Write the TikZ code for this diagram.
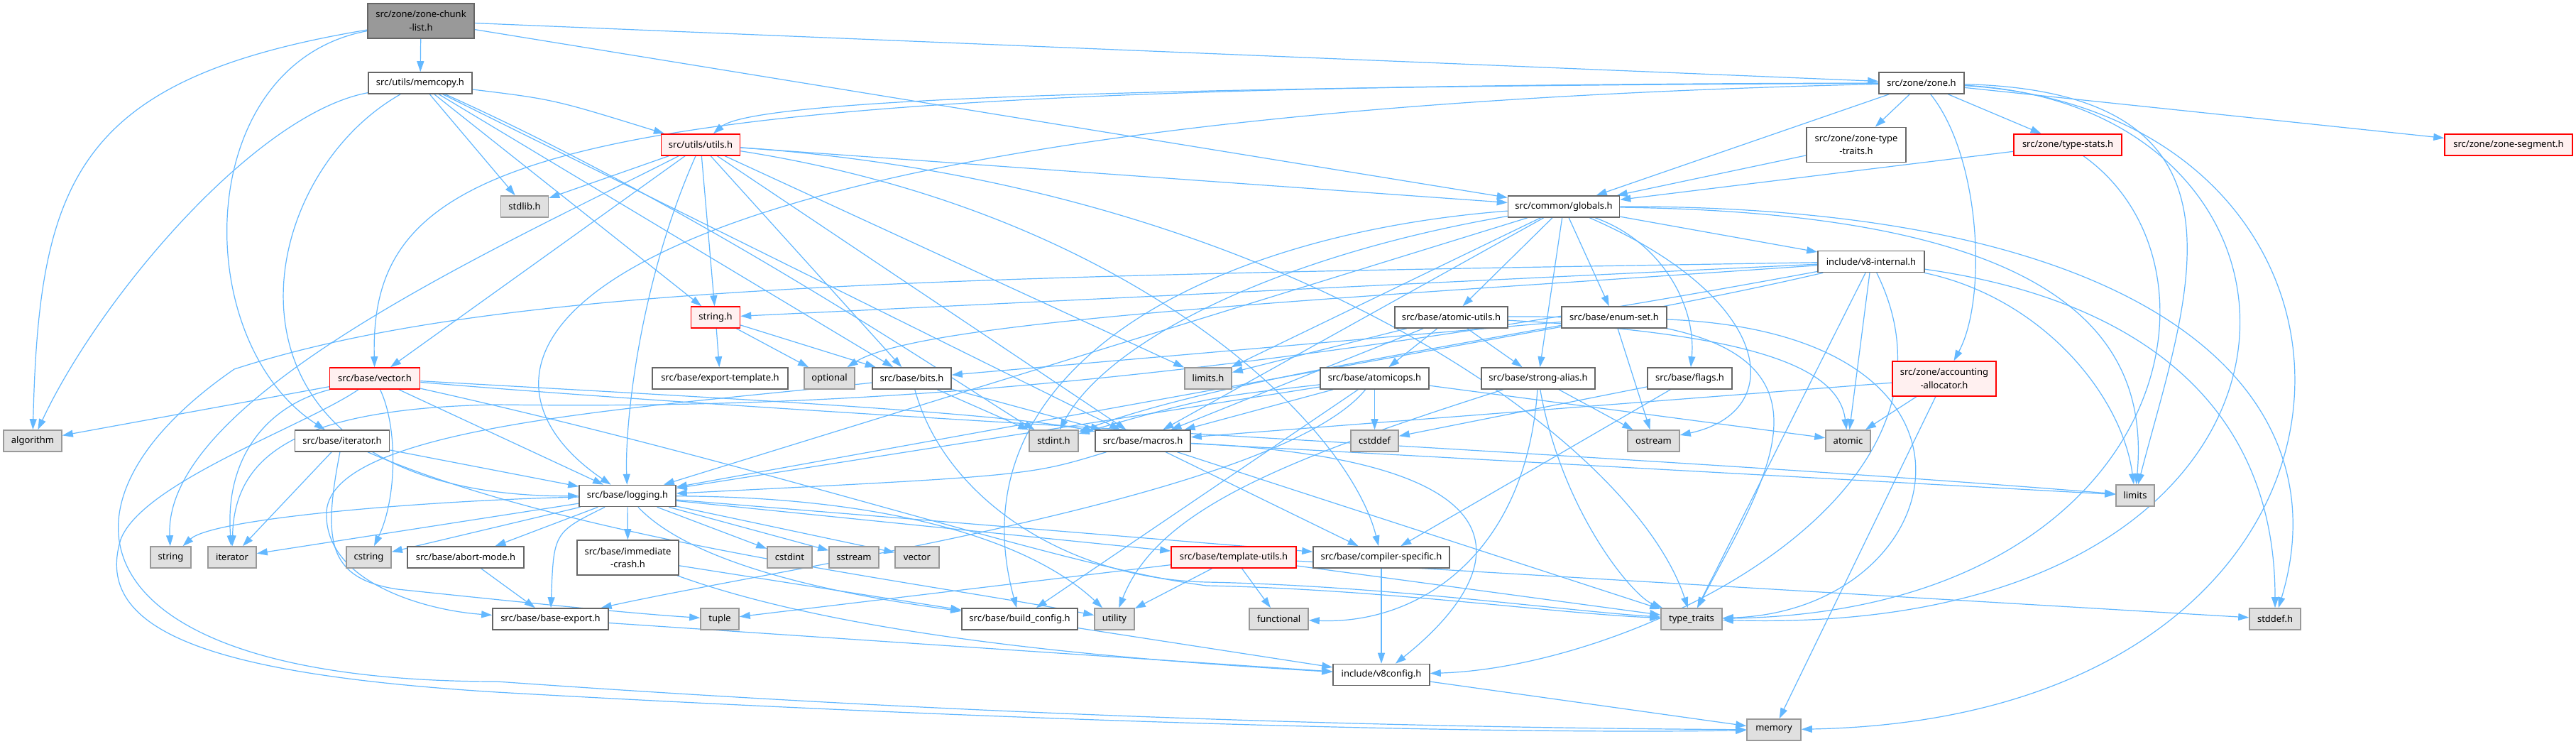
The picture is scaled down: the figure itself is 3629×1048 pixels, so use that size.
\documentclass[tikz,border=0pt]{standalone}
\usepackage{fontspec}
\setmainfont{Noto Sans}
\usepackage{tikz}
\usetikzlibrary{arrows.meta,backgrounds}
\definecolor{depblue}{RGB}{99,184,255}
\definecolor{hdrgray}{RGB}{102,102,102}
\definecolor{sysgray}{RGB}{153,153,153}
\definecolor{sysfill}{RGB}{224,224,224}
\definecolor{truncred}{RGB}{255,0,0}
\definecolor{truncfill}{RGB}{255,240,240}
\definecolor{mainfill}{RGB}{153,153,153}
\newcommand{\hdrfont}{\fontsize{13}{18.7}\selectfont}
\tikzset{
  hdr/.style={draw=hdrgray, fill=white, line width=1.6pt, minimum height=30pt,
              inner xsep=8pt, inner ysep=2pt, font=\hdrfont},
  syshdr/.style={hdr, draw=sysgray, fill=sysfill},
  trunchdr/.style={hdr, draw=truncred, fill=truncfill},
  mainhdr/.style={hdr, fill=mainfill},
  twoline/.style={minimum height=49pt, align=center},
  dep/.style={-{Triangle[length=15pt,width=10pt]}, draw=depblue, line width=1.2pt}
}

\begin{document}
\begin{tikzpicture}[x=1pt, y=-1pt]
  \useasboundingbox (0,0) rectangle (3629,1048);
  % top rows
  \node[mainhdr, twoline, minimum width=150pt] (chunk) at (593,29.5) {src/zone/zone-chunk\\-list.h};
  \node[hdr, minimum width=146pt] (memcopy) at (592,117) {src/utils/memcopy.h};
  \node[hdr, minimum width=120pt] (zone) at (2707,117) {src/zone/zone.h};
  \node[trunchdr, minimum width=111pt] (utils) at (987,204) {src/utils/utils.h};
  \node[hdr, twoline, minimum width=140pt] (ztt) at (2615,204) {src/zone/zone-type\\-traits.h};
  \node[trunchdr, minimum width=152pt] (tstats) at (2913,204) {src/zone/type-stats.h};
  \node[trunchdr, minimum width=180pt] (zseg) at (3534,204) {src/zone/zone-segment.h};
  \node[syshdr, minimum width=67pt] (stdlib) at (739,291) {stdlib.h};
  \node[hdr, minimum width=157pt] (globals) at (2203,291) {src/common/globals.h};
  \node[hdr, minimum width=150pt] (v8int) at (2636,368.5) {include/v8-internal.h};
  % middle rows
  \node[trunchdr, minimum width=69pt] (stringh) at (1008,447) {string.h};
  \node[hdr, minimum width=159pt] (atomicutils) at (2044.5,447) {src/base/atomic-utils.h};
  \node[hdr, minimum width=148pt] (enumset) at (2274,447) {src/base/enum-set.h};
  \node[trunchdr, minimum width=127pt] (vector) at (528,533) {src/base/vector.h};
  \node[hdr, minimum width=191pt] (exptempl) at (1014.5,533) {src/base/export-template.h};
  \node[syshdr, minimum width=71pt] (optional) at (1168.5,533) {optional};
  \node[hdr, minimum width=111pt] (bits) at (1284.5,533) {src/base/bits.h};
  \node[syshdr, minimum width=66pt] (limitsh) at (1702,533) {limits.h};
  \node[hdr, minimum width=153pt] (atomicops) at (1936.5,533) {src/base/atomicops.h};
  \node[hdr, minimum width=160pt] (strongalias) at (2167,533) {src/base/strong-alias.h};
  \node[hdr, minimum width=119pt] (flags) at (2380.5,533) {src/base/flags.h};
  \node[trunchdr, twoline, minimum width=146pt] (acc) at (2739,533.5) {src/zone/accounting\\-allocator.h};
  \node[syshdr, minimum width=82pt] (algorithm) at (46,621) {algorithm};
  \node[hdr, minimum width=133pt] (iterh) at (482,621) {src/base/iterator.h};
  \node[syshdr, minimum width=69pt] (stdint) at (1484.5,621) {stdint.h};
  \node[hdr, minimum width=134pt] (macros) at (1610,621) {src/base/macros.h};
  \node[syshdr, minimum width=67pt] (cstddef) at (1936.5,621) {cstddef};
  \node[syshdr, minimum width=73pt] (ostream) at (2329.5,621) {ostream};
  \node[syshdr, minimum width=63pt] (atomic) at (2603.5,621) {atomic};
  \node[hdr, minimum width=136pt] (logging) at (884,698.5) {src/base/logging.h};
  \node[syshdr, minimum width=54pt] (limits) at (3008,698) {limits};
  % bottom rows
  \node[syshdr, minimum width=57pt] (string) at (240.5,785) {string};
  \node[syshdr, minimum width=68pt] (iterator) at (327,785) {iterator};
  \node[syshdr, minimum width=63pt] (cstring) at (519.5,785) {cstring};
  \node[hdr, minimum width=164pt] (abortmode) at (656,785) {src/base/abort-mode.h};
  \node[hdr, twoline, minimum width=143pt] (immcrash) at (884.5,785.5) {src/base/immediate\\-crash.h};
  \node[syshdr, minimum width=63pt] (cstdint) at (1112.5,785) {cstdint};
  \node[syshdr, minimum width=70pt] (sstream) at (1203,785) {sstream};
  \node[syshdr, minimum width=62pt] (vectorstd) at (1292,785) {vector};
  \node[trunchdr, minimum width=176pt] (templutils) at (1738,785) {src/base/template-utils.h};
  \node[hdr, minimum width=192pt] (compspec) at (1946,785) {src/base/compiler-specific.h};
  \node[hdr, minimum width=163pt] (basexport) at (775.5,872) {src/base/base-export.h};
  \node[syshdr, minimum width=54pt] (tuple) at (1014,872) {tuple};
  \node[hdr, minimum width=163pt] (buildconfig) at (1436.5,872) {src/base/build\_config.h};
  \node[syshdr, minimum width=56pt] (utility) at (1570,872) {utility};
  \node[syshdr, minimum width=83pt] (functional) at (1801.5,872) {functional};
  \node[syshdr, minimum width=86pt] (ttraits) at (2383,872) {type\_traits};
  \node[syshdr, minimum width=72pt] (stddefh) at (3205,872) {stddef.h};
  \node[hdr, minimum width=136pt] (v8config) at (1946,950.5) {include/v8config.h};
  \node[syshdr, minimum width=76pt] (memory) at (2499,1028) {memory};

  \begin{pgfonlayer}{background}
  \fill[white] (0,0) rectangle (3629,1048);
  % zone-chunk-list.h
  \draw[dep] (chunk) -- (memcopy);
  \draw[dep] (chunk) .. controls (110,110) and (55,250) .. (algorithm);
  \draw[dep] (chunk) .. controls (270,90) and (265,480) .. (iterh);
  \draw[dep] (chunk) -- (globals);
  \draw[dep] (chunk) -- (zone);
  % memcopy.h
  \draw[dep] (memcopy) .. controls (360,160) and (140,420) .. (algorithm);
  \draw[dep] (memcopy) .. controls (340,260) and (280,700) .. (logging);
  \draw[dep] (memcopy) -- (stdlib);
  \draw[dep] (memcopy) -- (stringh);
  \draw[dep] (memcopy) .. controls (780,140) .. (utils);
  \draw[dep] (memcopy) -- (bits);
  \draw[dep] (memcopy) -- (macros);
  \draw[dep] (memcopy) .. controls (1000,300) and (1380,560) .. (stdint);
  % utils.h
  \draw[dep] (utils) -- (stdlib);
  \draw[dep] (utils) -- (stringh);
  \draw[dep] (utils) -- (vector);
  \draw[dep] (utils) .. controls (900,400) and (880,600) .. (logging);
  \draw[dep] (utils) .. controls (700,350) and (230,560) .. (string);
  \draw[dep] (utils) -- (bits);
  \draw[dep] (utils) -- (macros);
  \draw[dep] (utils) -- (limitsh);
  \draw[dep] (utils) -- (globals);
  \draw[dep] (utils) .. controls (1600,300) and (1900,600) .. (compspec);
  \draw[dep] (utils) .. controls (1800,260) and (2300,620) .. (ttraits);
  % zone.h
  \draw[dep] (zone) -- (ztt);
  \draw[dep] (zone) -- (globals);
  \draw[dep] (zone) -- (tstats);
  \draw[dep] (zone) -- (zseg);
  \draw[dep] (zone) .. controls (2790,220) and (2800,420) .. (acc);
  \draw[dep] (zone) .. controls (3200,130) and (3080,420) .. (limits);
  \draw[dep] (zone) .. controls (3330,150) and (3330,900) .. (ttraits);
  \draw[dep] (zone) .. controls (3420,160) and (3420,1010) .. (memory);
  \draw[dep] (zone) .. controls (1600,122) and (1060,140) .. (utils);
  \draw[dep] (zone) .. controls (800,120) and (520,200) .. (vector);
  \draw[dep] (zone) .. controls (700,165) and (620,520) .. (logging);
  % zone-type-traits.h, type-stats.h, accounting-allocator.h
  \draw[dep] (ztt) -- (globals);
  \draw[dep] (tstats) -- (globals);
  \draw[dep] (tstats) .. controls (3160,380) and (3050,860) .. (ttraits);
  \draw[dep] (acc) -- (atomic);
  \draw[dep] (acc) -- (memory);
  \draw[dep] (acc) -- (macros);
  % globals.h
  \draw[dep] (globals) -- (v8int);
  \draw[dep] (globals) -- (atomicutils);
  \draw[dep] (globals) -- (enumset);
  \draw[dep] (globals) -- (strongalias);
  \draw[dep] (globals) .. controls (2340,340) and (2390,430) .. (flags);
  \draw[dep] (globals) .. controls (2500,420) and (2520,580) .. (ostream);
  \draw[dep] (globals) .. controls (2880,300) and (3030,460) .. (limits);
  \draw[dep] (globals) .. controls (3050,290) and (3300,560) .. (stddefh);
  \draw[dep] (globals) .. controls (1800,360) and (1560,480) .. (stdint);
  \draw[dep] (globals) -- (macros);
  \draw[dep] (globals) -- (limitsh);
  \draw[dep] (globals) -- (logging);
  \draw[dep] (globals) .. controls (1700,330) and (1340,520) .. (buildconfig);
  % v8-internal.h
  \draw[dep] (v8int) -- (stringh);
  \draw[dep] (v8int) .. controls (1300,390) and (700,400) .. (330,520)
    .. controls (40,720) and (120,960) .. (700,960)
    .. controls (1400,1010) and (2000,1025) .. (memory);
  \draw[dep] (v8int) -- (atomic);
  \draw[dep] (v8int) .. controls (1600,560) and (1100,575) .. (700,570)
    .. controls (420,575) and (330,640) .. (iterator);
  \draw[dep] (v8int) .. controls (2880,420) and (2990,560) .. (limits);
  \draw[dep] (v8int) .. controls (1900,420) and (1300,450) .. (optional);
  \draw[dep] (v8int) -- (ttraits);
  \draw[dep] (v8int) .. controls (3000,420) and (3205,560) .. (stddefh);
  \draw[dep] (v8int) .. controls (2200,470) and (1760,520) .. (stdint);
  \draw[dep] (v8int) .. controls (2800,700) and (2300,940) .. (v8config);
  % atomic-utils.h
  \draw[dep] (atomicutils) -- (atomicops);
  \draw[dep] (atomicutils) -- (strongalias);
  \draw[dep] (atomicutils) .. controls (2480,470) and (2590,520) .. (atomic);
  \draw[dep] (atomicutils) .. controls (2650,440) and (2500,650) .. (ttraits);
  \draw[dep] (atomicutils) -- (limitsh);
  \draw[dep] (atomicutils) -- (macros);
  % enum-set.h
  \draw[dep] (enumset) -- (ostream);
  \draw[dep] (enumset) -- (bits);
  \draw[dep] (enumset) -- (logging);
  \draw[dep] (enumset) .. controls (2850,470) and (2750,860) .. (ttraits);
  % atomicops.h
  \draw[dep] (atomicops) -- (cstddef);
  \draw[dep] (atomicops) -- (atomic);
  \draw[dep] (atomicops) .. controls (1700,560) .. (stdint);
  \draw[dep] (atomicops) -- (macros);
  \draw[dep] (atomicops) .. controls (1800,700) and (1100,800) .. (basexport);
  \draw[dep] (atomicops) -- (buildconfig);
  \draw[dep] (atomicops) -- (logging);
  % strong-alias.h
  \draw[dep] (strongalias) -- (ostream);
  \draw[dep] (strongalias) .. controls (2200,720) and (2300,840) .. (ttraits);
  \draw[dep] (strongalias) .. controls (2150,780) and (2000,880) .. (functional);
  \draw[dep] (strongalias) .. controls (1800,650) and (1630,720) .. (utility);
  % flags.h
  \draw[dep] (flags) -- (cstddef);
  \draw[dep] (flags) -- (compspec);
  % bits.h
  \draw[dep] (bits) -- (stdint);
  \draw[dep] (bits) -- (macros);
  \draw[dep] (bits) .. controls (1330,700) and (1500,815) .. (1700,820)
    .. controls (1950,825) and (2200,860) .. (ttraits);
  \draw[dep] (bits) .. controls (900,575) and (470,600) .. (460,720)
    .. controls (455,820) and (600,860) .. (basexport);
  % macros.h
  \draw[dep] (macros) -- (limits);
  \draw[dep] (macros) -- (ttraits);
  \draw[dep] (macros) -- (compspec);
  \draw[dep] (macros) .. controls (1450,670) .. (logging);
  \draw[dep] (macros) .. controls (2200,650) and (2110,820) .. (v8config);
  % vector.h
  \draw[dep] (vector) -- (algorithm);
  \draw[dep] (vector) -- (logging);
  \draw[dep] (vector) .. controls (560,600) and (560,700) .. (cstring);
  \draw[dep] (vector) .. controls (380,570) and (316,640) .. (iterator);
  \draw[dep] (vector) .. controls (430,600) and (200,680) .. (170,760)
    .. controls (130,890) and (300,950) .. (700,975)
    .. controls (1400,1015) and (2100,1035) .. (memory);
  \draw[dep] (vector) .. controls (1000,560) and (1400,580) .. (macros);
  \draw[dep] (vector) .. controls (1200,590) and (2300,640) .. (limits);
  \draw[dep] (vector) .. controls (1100,660) and (1500,800) .. (1700,825)
    .. controls (1950,830) and (2200,865) .. (ttraits);
  % iterator.h
  \draw[dep] (iterh) -- (logging);
  \draw[dep] (iterh) -- (iterator);
  \draw[dep] (iterh) .. controls (455,760) and (460,815) .. (560,830)
    .. controls (750,850) and (900,865) .. (tuple);
  \draw[dep] (iterh) .. controls (800,760) and (1300,820) .. (utility);
  % logging.h
  \draw[dep] (logging) .. controls (600,705) and (300,730) .. (string);
  \draw[dep] (logging) -- (iterator);
  \draw[dep] (logging) -- (cstring);
  \draw[dep] (logging) -- (abortmode);
  \draw[dep] (logging) -- (immcrash);
  \draw[dep] (logging) .. controls (780,750) .. (basexport);
  \draw[dep] (logging) -- (cstdint);
  \draw[dep] (logging) -- (sstream);
  \draw[dep] (logging) -- (vectorstd);
  \draw[dep] (logging) .. controls (980,800) and (1200,840) .. (buildconfig);
  \draw[dep] (logging) .. controls (1250,700) and (1450,760) .. (utility);
  \draw[dep] (logging) -- (templutils);
  \draw[dep] (logging) -- (compspec);
  % lower headers
  \draw[dep] (abortmode) -- (basexport);
  \draw[dep] (immcrash) -- (buildconfig);
  \draw[dep] (immcrash) .. controls (1200,900) and (1600,930) .. (v8config);
  \draw[dep] (basexport) -- (v8config);
  \draw[dep] (buildconfig) -- (v8config);
  \draw[dep] (compspec) -- (v8config);
  \draw[dep] (templutils) -- (functional);
  \draw[dep] (templutils) -- (utility);
  \draw[dep] (templutils) -- (tuple);
  \draw[dep] (templutils) -- (ttraits);
  \draw[dep] (templutils) -- (stddefh);
  \draw[dep] (v8config) -- (memory);
  \draw[dep] (stringh) -- (exptempl);
  \draw[dep] (stringh) -- (optional);
  \draw[dep] (stringh) -- (bits);
  \end{pgfonlayer}
\end{tikzpicture}
\end{document}
